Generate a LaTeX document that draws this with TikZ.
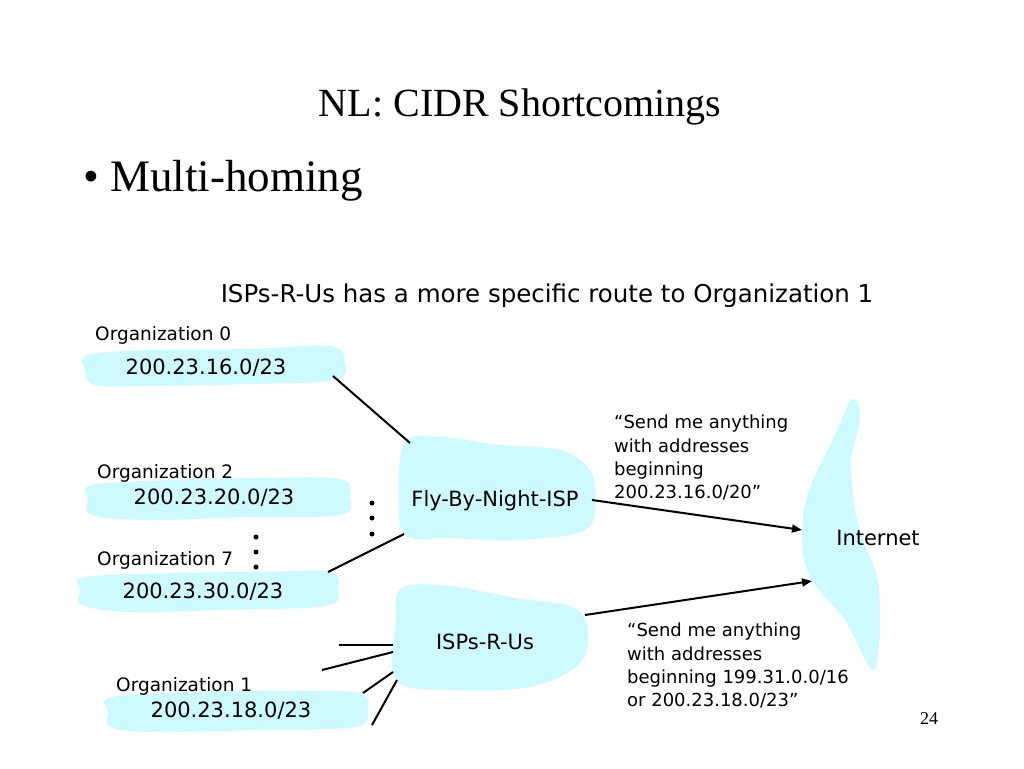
\documentclass[tikz,border=0pt]{standalone}
\usepackage{fontspec}
\setmainfont{Liberation Serif}
\newfontfamily\dv{DejaVu Sans}
\usetikzlibrary{arrows.meta}
\definecolor{blobc}{HTML}{CCFAFF}
\begin{document}
\begin{tikzpicture}[x=1pt,y=-1pt,
  blob/.style={fill=blobc,draw=none},
  lnk/.style={line width=2pt},
  arr/.style={line width=2pt,-{Triangle[length=10pt,width=8pt]}},
  org/.style={font=\dv\fontsize{18.5}{22}\selectfont,anchor=west,inner sep=0pt},
  addr/.style={font=\dv\fontsize{21}{25}\selectfont,inner sep=0pt},
  lbl/.style={font=\dv\fontsize{21}{25}\selectfont,inner sep=0pt},
  msg/.style={font=\dv\fontsize{18}{23.3}\selectfont,inner sep=0pt,anchor=north west,align=left},
  dotc/.style={fill=black,draw=none}]
\useasboundingbox[fill=white] (0,0) rectangle (1024,768);

% title
\node[font=\fontsize{40}{48}\selectfont,inner sep=0pt] (title) at (520,107) {NL: CIDR Shortcomings};
\node[font=\fontsize{45}{54}\selectfont,inner sep=0pt,anchor=west] (bullet) at (83,181) {• Multi-homing};
\node[font=\dv\fontsize{24.5}{28}\selectfont,inner sep=0pt] (head) at (547,296) {ISPs-R-Us has a more specific route to Organization 1};

% blobs
\fill[blob] plot[smooth cycle,tension=0.6] coordinates {(88,355) (150,350) (250,349) (330,346) (345,362) (335,380) (250,384) (150,386) (95,385) (85,370)};
\fill[blob] plot[smooth cycle,tension=0.6] coordinates {(92,485) (170,480) (260,478) (340,479) (350,497) (340,515) (250,517) (150,520) (92,515) (88,498)};
\fill[blob] plot[smooth cycle,tension=0.6] coordinates {(85,577) (180,573) (260,572) (330,572) (338,590) (325,606) (220,610) (130,612) (82,605) (80,590)};
\fill[blob] plot[smooth cycle,tension=0.6] coordinates {(112,697) (200,692) (300,691) (360,693) (368,710) (355,727) (260,730) (160,732) (112,728) (108,712)};
\fill[blob] plot[smooth cycle,tension=0.6] coordinates {(405,442) (440,437) (500,445) (560,450) (590,470) (595,500) (585,530) (520,540) (450,538) (405,535) (399,490)};
\fill[blob] plot[smooth cycle,tension=0.6] coordinates {(402,588) (450,586) (515,598) (575,608) (588,635) (578,665) (530,687) (450,690) (396,680) (396,620)};
\fill[blob] plot[smooth cycle,tension=0.5] coordinates {(850,400) (858,402) (859,425) (851,460) (855,510) (865,545) (878,580) (880,630) (876,667) (868,665) (845,620) (815,585) (803,555) (804,510) (813,480) (830,445) (846,410)};

% labels
\node[org] (l0) at (95,335) {Organization 0};
\node[org] (l2) at (97,473) {Organization 2};
\node[org] (l7) at (97,560) {Organization 7};
\node[org] (l1) at (116,686) {Organization 1};
\node[addr] (a0) at (206,368) {200.23.16.0/23};
\node[addr] (a2) at (214,498) {200.23.20.0/23};
\node[addr] (a7) at (203,592) {200.23.30.0/23};
\node[addr] (a1) at (231,711) {200.23.18.0/23};
\node[lbl] (fbn) at (495,501) {Fly-By-Night-ISP};
\node[lbl] (isp) at (485,642) {ISPs-R-Us};
\node[lbl] (net) at (878,538) {Internet};
\node[msg] (m1) at (614,415) {“Send me anything\\with addresses\\beginning\\200.23.16.0/20”};
\node[msg] (m2) at (627,623) {“Send me anything\\with addresses\\beginning 199.31.0.0/16\\or 200.23.18.0/23”};
\node[font=\fontsize{18}{22}\selectfont,inner sep=0pt] (pg) at (929,719) {24};

% dots
\foreach \y in {503,518,534} \fill[dotc] (372,\y) circle (2.5);
\foreach \y in {537,552,567} \fill[dotc] (256,\y) circle (2.5);

% connector endpoints
\coordinate (o0e) at (333,376);
\coordinate (fbnA) at (410,443);
\coordinate (o7e) at (328,572);
\coordinate (fbnB) at (404,534);
\coordinate (fbnE) at (592,500);
\coordinate (netA) at (802,530);
\coordinate (ispE) at (585,615);
\coordinate (netB) at (812,581);
\coordinate (s1) at (339,645); \coordinate (i1) at (393,645);
\coordinate (s2) at (322,670); \coordinate (i2) at (393,652);
\coordinate (s3) at (363,693); \coordinate (i3) at (393,672);
\coordinate (s4) at (372,725); \coordinate (i4) at (397,680);

\draw[lnk] (o0e) -- (fbnA);
\draw[lnk] (o7e) -- (fbnB);
\draw[arr] (fbnE) -- (netA);
\draw[arr] (ispE) -- (netB);
\draw[lnk] (s1) -- (i1);
\draw[lnk] (s2) -- (i2);
\draw[lnk] (s3) -- (i3);
\draw[lnk] (s4) -- (i4);
\end{tikzpicture}
\end{document}
